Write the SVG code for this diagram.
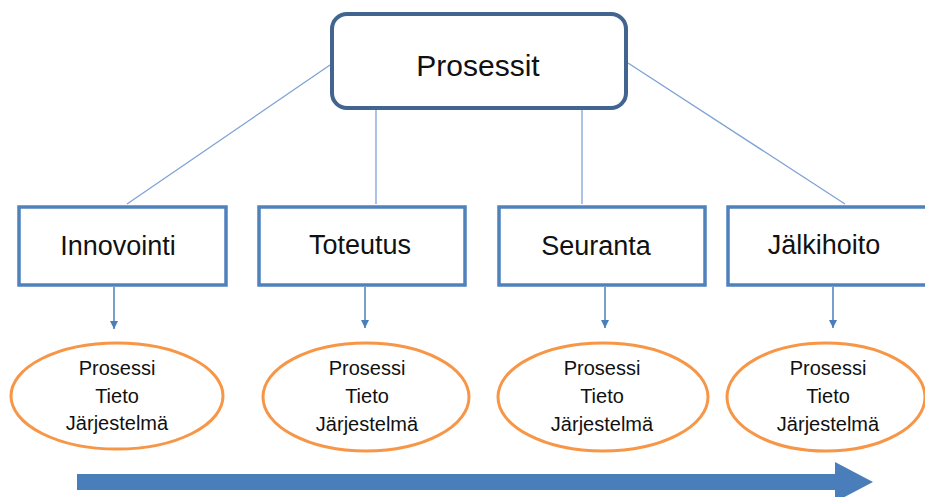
<svg xmlns="http://www.w3.org/2000/svg" width="925" height="497" viewBox="0 0 925 497">
  <defs>
    <marker id="tip" viewBox="0 0 10 10" refX="10" refY="5" markerWidth="8" markerHeight="9" markerUnits="userSpaceOnUse" orient="auto">
      <path d="M0,0 L10,5 L0,10 Z" fill="#4a7ebb"/>
    </marker>
    <style>
      .label { font-family: "Liberation Sans", Arial, sans-serif; fill: #111; text-anchor: middle; }
      .root { fill: #fff; stroke: #41658f; stroke-width: 4; }
      .phase { fill: #fff; stroke: #4f81bd; stroke-width: 3.5; }
      .phase-text { font-size: 27px; }
      .item { fill: #fff; stroke: #f79646; stroke-width: 3; }
      .item-text { font-size: 20px; }
      .link { stroke: #7fa3d4; stroke-width: 1.3; fill: none; }
      .down { stroke: #4a7ebb; stroke-width: 1.5; fill: none; marker-end: url(#tip); }
    </style>
  </defs>
  <rect width="925" height="497" fill="#fff"/>

  <!-- connectors -->
  <g id="connectors">
    <line class="link" x1="330" y1="65" x2="127" y2="204"/>
    <line class="link" x1="376" y1="110" x2="376" y2="204"/>
    <line class="link" x1="582" y1="110" x2="582" y2="204"/>
    <line class="link" x1="628" y1="63" x2="845" y2="204"/>
    <line class="down" x1="114" y1="287" x2="114" y2="329"/>
    <line class="down" x1="365" y1="287" x2="365" y2="328"/>
    <line class="down" x1="605" y1="287" x2="605" y2="328"/>
    <line class="down" x1="833" y1="287" x2="833" y2="328"/>
  </g>

  <!-- top process -->
  <g id="prosessit">
    <rect class="root" x="332" y="14" width="294" height="94" rx="15"/>
    <text class="label" x="478" y="76" font-size="30">Prosessit</text>
  </g>

  <!-- phases -->
  <g id="innovointi">
    <rect class="phase" x="19" y="207" width="207" height="78"/>
    <text class="label phase-text" x="118" y="255">Innovointi</text>
  </g>
  <g id="toteutus">
    <rect class="phase" x="259" y="207" width="206" height="78"/>
    <text class="label phase-text" x="360" y="254">Toteutus</text>
  </g>
  <g id="seuranta">
    <rect class="phase" x="499" y="207" width="206" height="78"/>
    <text class="label phase-text" x="596" y="255">Seuranta</text>
  </g>
  <g id="jalkihoito">
    <rect class="phase" x="728" y="207" width="210" height="78"/>
    <text class="label phase-text" x="824" y="254">Jälkihoito</text>
  </g>

  <!-- phase contents -->
  <g id="sisalto-innovointi">
    <ellipse class="item" cx="117" cy="396" rx="106" ry="53"/>
    <text class="label item-text" x="117" y="375">Prosessi</text>
    <text class="label item-text" x="117" y="403">Tieto</text>
    <text class="label item-text" x="117" y="430">Järjestelmä</text>
  </g>
  <g id="sisalto-toteutus">
    <ellipse class="item" cx="366" cy="397" rx="103" ry="54"/>
    <text class="label item-text" x="367" y="375">Prosessi</text>
    <text class="label item-text" x="367" y="403">Tieto</text>
    <text class="label item-text" x="367" y="431">Järjestelmä</text>
  </g>
  <g id="sisalto-seuranta">
    <ellipse class="item" cx="603" cy="397" rx="105" ry="54"/>
    <text class="label item-text" x="602" y="375">Prosessi</text>
    <text class="label item-text" x="602" y="403">Tieto</text>
    <text class="label item-text" x="602" y="431">Järjestelmä</text>
  </g>
  <g id="sisalto-jalkihoito">
    <ellipse class="item" cx="826" cy="397" rx="99" ry="54"/>
    <text class="label item-text" x="828" y="375">Prosessi</text>
    <text class="label item-text" x="828" y="403">Tieto</text>
    <text class="label item-text" x="828" y="431">Järjestelmä</text>
  </g>

  <!-- timeline arrow -->
  <g id="aikajana">
    <polygon points="77,474 835,474 835,462 873,482 835,502 835,490 77,490" fill="#4a7ebb"/>
  </g>
</svg>
